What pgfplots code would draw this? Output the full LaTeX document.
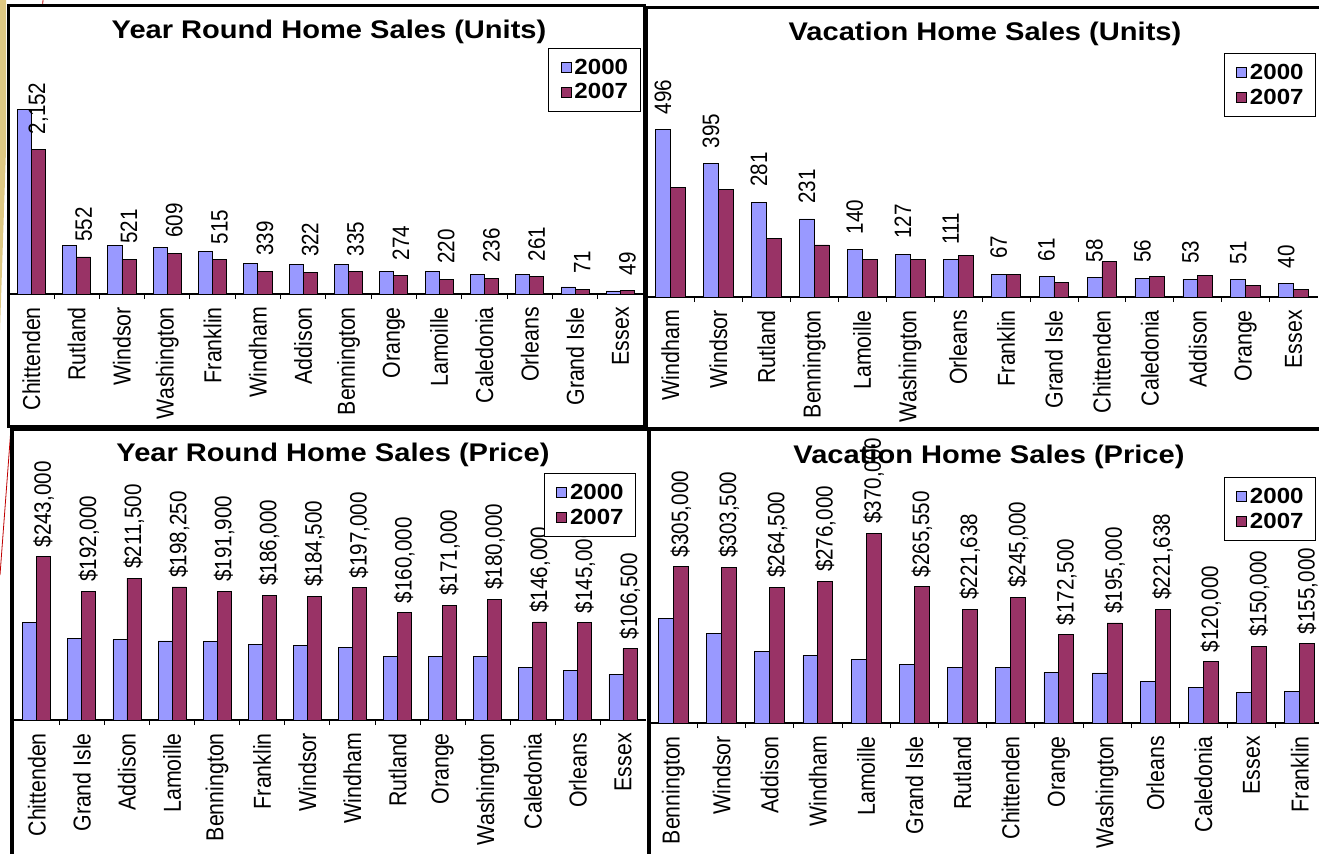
\documentclass[border=0pt]{standalone}
\usepackage{fontspec}
\setmainfont{Liberation Sans}
\usepackage{graphicx}
\usepackage{pgfplots}
\pgfplotsset{compat=1.18}
\usepackage{pgfplotstable}
\definecolor{cA}{RGB}{153,153,255}
\definecolor{cB}{RGB}{153,51,102}
\definecolor{goldc}{RGB}{222,200,130}
\newcommand{\vs}[1]{\scalebox{1}[1.15]{#1}}
\newcommand{\hs}[2][1.14]{\scalebox{#1}[1]{#2}}
\newcommand{\tlf}{\fontsize{21.4}{24}\selectfont}
\newcommand{\dlf}{\fontsize{20.7}{24}\selectfont}
\newcommand{\ttf}{\fontsize{25.6}{28}\selectfont\bfseries}
\newcommand{\lgf}{\fontsize{22}{24}\selectfont\bfseries}

\pgfplotstableread{
x a b lab
0 2748 2152 2,152
1 730 552 552
2 730 521 521
3 693 609 609
4 634 515 515
5 453 339 339
6 437 322 322
7 440 335 335
8 330 274 274
9 330 220 220
10 285 236 236
11 285 261 261
12 105 71 71
13 45 49 49
}\tA

\pgfplotstableread{
x a b lab
0 496 324 496
1 395 318 395
2 281 174 281
3 231 154 231
4 140 110 140
5 127 110 127
6 111 122 111
7 67 67 67
8 61 43 61
9 58 105 58
10 56 62 56
11 53 65 53
12 51 33 51
13 40 22 40
}\tB

\pgfplotstableread{
x a b lab
0 144700 243000 243,000
1 121000 192000 192,000
2 119700 211500 211,500
3 117800 198250 198,250
4 117400 191900 191,900
5 112000 186000 186,000
6 110500 184500 184,500
7 107700 197000 197,000
8 95000 160000 160,000
9 94100 171000 171,000
10 94100 180000 180,000
11 78000 146000 146,000
12 74000 145000 145,000
13 67800 106500 106,500
}\tC

\pgfplotstableread{
x a b lab
0 203700 305000 305,000
1 174900 303500 303,500
2 139800 264500 264,500
3 131200 276000 276,000
4 123900 370000 370,000
5 113600 265550 265,550
6 108650 221638 221,638
7 108600 245000 245,000
8 98500 172500 172,500
9 97600 195000 195,000
10 81400 221638 221,638
11 69400 120000 120,000
12 60400 150000 150,000
13 61500 155000 155,000
}\tD

\pgfplotsset{
  panel/.style={
    scale only axis, ybar=0pt, ymin=0,
    xmin=-0.5, xmax=13.5,
    axis x line*=bottom, axis y line=none,
    x axis line style={-, black, line width=1.2bp},
    xtick={0,...,13}, major tick length=0pt,
    minor xtick={0.5,1.5,...,12.5}, minor tick length=5bp,
    tick align=outside,
    minor tick style={black, line width=0.8bp},
    xticklabel style={rotate=90, anchor=east, inner sep=0pt, inner xsep=13bp, font=\tlf},
    bar width=0.31,
    clip=false,
    title style={anchor=base, font=\ttf},
    legend style={anchor=north east, draw=black, line width=0.8bp, fill=white,
      font=\lgf, inner xsep=12bp, inner ysep=10.5bp, row sep=8bp, column sep=3bp,
      nodes={inner sep=0pt}},
    legend cell align=left,
  },
  sqA/.style={legend image code/.code={\draw[fill=cA, draw=black, line width=0.8bp] (0bp,-5bp) rectangle (10bp,5bp);}},
  sqB/.style={legend image code/.code={\draw[fill=cB, draw=black, line width=0.8bp] (0bp,-5bp) rectangle (10bp,5bp);}},
  barA/.style={fill=cA, draw=black, line width=0.8bp, bar shift=-0.155, sqA},
  barB/.style={fill=cB, draw=black, line width=0.8bp, bar shift=0.155, sqB},
  lbl/.style={point meta=explicit symbolic,
    every node near coord/.append style={rotate=90, anchor=west, inner sep=0pt, inner xsep=#1, font=\dlf}},
}

\begin{document}
\begin{tikzpicture}
\useasboundingbox (0,0) rectangle (1319bp,-854bp);
\fill[goldc] (0,0) -- (6bp,0) -- (6bp,-150bp) -- (0,-330bp) -- cycle;
\draw[red!75!black, line width=0.8bp] (43bp,0) -- (0,-575bp);
\fill[white] (8.5bp,-5.5bp) rectangle (644.5bp,-426.5bp);
\fill[white] (646.5bp,-7.5bp) rectangle (1330bp,-429bp);
\fill[white] (12bp,-429bp) rectangle (649bp,-870bp);
\fill[white] (649bp,-429.5bp) rectangle (1330bp,-870bp);

% Panel 1
\begin{axis}[panel, at={(8.6bp,-294bp)}, anchor=south west,
  width=634.5bp, height=234.9bp, ymax=3500,
  xticklabels={\vs{Chittenden},\vs{Rutland},\vs{Windsor},\vs{Washington},\vs{Franklin},\vs{Windham},\vs{Addison},\vs{Bennington},\vs{Orange},\vs{Lamoille},\vs{Caledonia},\vs{Orleans},\vs{Grand Isle},\vs{Essex}},
  title={\hs{Year Round Home Sales (Units)}},
  title style={at={(axis description cs:0.505,1.0643)}},
  legend style={at={(axis description cs:0.9959,1.0473)}}]
\addplot[barA] table[x=x,y=a]{\tA};
\addlegendentry{\hs[1.1]{2000}}
\addplot[barB, lbl=15bp, nodes near coords={\vs{\pgfplotspointmeta}}] table[x=x,y=b,meta=lab]{\tA};
\addlegendentry{\hs[1.1]{2007}}
\end{axis}

% Panel 2
\begin{axis}[panel, at={(646.5bp,-297bp)}, anchor=south west,
  width=671.1bp, height=236.4bp, ymax=700,
  xticklabels={\vs{Windham},\vs{Windsor},\vs{Rutland},\vs{Bennington},\vs{Lamoille},\vs{Washington},\vs{Orleans},\vs{Franklin},\vs{Grand Isle},\vs{Chittenden},\vs{Caledonia},\vs{Addison},\vs{Orange},\vs{Essex}},
  title={\hs{Vacation Home Sales (Units)}},
  title style={at={(axis description cs:0.5044,1.0597)}},
  legend style={at={(axis description cs:0.9976,1.0321)}}]
\addplot[barA, lbl=15bp, nodes near coords={\vs{\pgfplotspointmeta}}] table[x=x,y=a,meta=lab]{\tB};
\addlegendentry{\hs[1.1]{2000}}
\addplot[barB] table[x=x,y=b]{\tB};
\addlegendentry{\hs[1.1]{2007}}
\end{axis}

% Panel 3
\begin{axis}[panel, at={(14.2bp,-720bp)}, anchor=south west,
  width=631.3bp, height=235bp, ymax=350000,
  xticklabels={\vs{Chittenden},\vs{Grand Isle},\vs{Addison},\vs{Lamoille},\vs{Bennington},\vs{Franklin},\vs{Windsor},\vs{Windham},\vs{Rutland},\vs{Orange},\vs{Washington},\vs{Caledonia},\vs{Orleans},\vs{Essex}},
  title={\hs{Year Round Home Sales (Price)}},
  title style={at={(axis description cs:0.505,1.0735)}},
  legend style={at={(axis description cs:0.985,1.051)}}]
\addplot[barA] table[x=x,y=a]{\tC};
\addlegendentry{\hs[1.1]{2000}}
\addplot[barB, lbl=9bp, nodes near coords={\vs{\$\pgfplotspointmeta}}] table[x=x,y=b,meta=lab]{\tC};
\addlegendentry{\hs[1.1]{2007}}
\end{axis}

% Panel 4
\begin{axis}[panel, at={(649.2bp,-723bp)}, anchor=south west,
  width=674.7bp, height=231bp, ymax=450000,
  xticklabels={\vs{Bennington},\vs{Windsor},\vs{Addison},\vs{Windham},\vs{Lamoille},\vs{Grand Isle},\vs{Rutland},\vs{Chittenden},\vs{Orange},\vs{Washington},\vs{Orleans},\vs{Caledonia},\vs{Essex},\vs{Franklin}},
  title={\hs{Vacation Home Sales (Price)}},
  title style={at={(axis description cs:0.5036,1.0984)}},
  legend style={at={(axis description cs:0.9883,1.065)}}]
\addplot[barA] table[x=x,y=a]{\tD};
\addlegendentry{\hs[1.1]{2000}}
\addplot[barB, lbl=9bp, nodes near coords={\vs{\$\pgfplotspointmeta}}] table[x=x,y=b,meta=lab]{\tD};
\addlegendentry{\hs[1.1]{2007}}
\end{axis}

\draw[line width=3.5bp] (8.5bp,-5.5bp) rectangle (644.5bp,-426.5bp);
\draw[line width=3.5bp] (646.5bp,-7.5bp) rectangle (1330bp,-429bp);
\draw[line width=3.5bp] (12bp,-429bp) rectangle (649bp,-870bp);
\draw[line width=3.5bp] (649bp,-429.5bp) rectangle (1330bp,-870bp);
\end{tikzpicture}
\end{document}
